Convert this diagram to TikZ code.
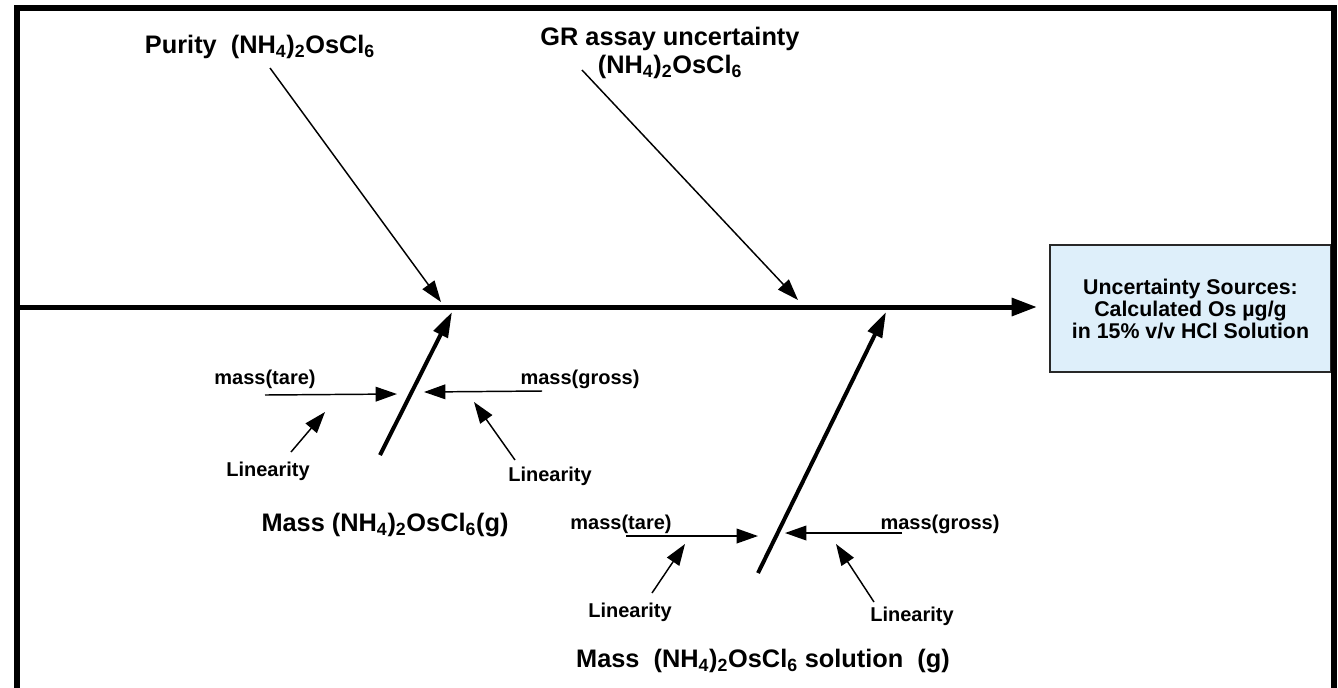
\documentclass[tikz,border=0pt]{standalone}
\usepackage{fontspec}
\setmainfont{Liberation Sans}
\usetikzlibrary{arrows.meta}

\newcommand{\ammcl}{(NH\textsubscript{4})\textsubscript{2}OsCl\textsubscript{6}}

\tikzset{every picture/.style={line width=0.75pt}}
\tikzset{
  thinarr/.style={line width=1.1pt,-{Triangle[length=16pt,width=11pt]}},
  bonearr/.style={line width=3pt,-{Triangle[length=19pt,width=11.5pt]}},
  spinearr/.style={line width=3.75pt,-{Triangle[length=19pt,width=13pt]}},
  biglbl/.style={font=\bfseries\fontsize{19}{21}\selectfont,anchor=base,inner sep=0pt},
  smalllbl/.style={font=\bfseries\fontsize{15}{17}\selectfont,anchor=base,inner sep=0pt},
}

\begin{document}
\begin{tikzpicture}[x=0.75pt,y=0.75pt,yscale=-1,xscale=1]
	\useasboundingbox (0,0) rectangle (1338,687);

	%Shape: Rectangle (result)
	\node (res) [draw={rgb,255:red,40;green,40;blue,40},line width=1.1pt,
	  fill={rgb,255:red,222;green,239;blue,250},minimum width=210.75pt,minimum height=95.25pt,
	  align=center,font=\bfseries\fontsize{16}{16.5}\selectfont,inner sep=0pt]
	  at (1190.5,308.5) {Uncertainty Sources:\\ Calculated Os µg/g\\ in 15\% v/v HCl Solution};

	%Frame
	\draw [line width=4pt,line join=miter] (17,690) -- (17,8) -- (1334,8) -- (1334,690) ;

	%Spine
	\coordinate (sp0) at (20,307);
	\coordinate (sp1) at (1037,307);
	\draw [spinearr] (sp0) -- (sp1) ;

	%Straight Lines (main causes)
	\coordinate (pur0) at (270,68);
	\coordinate (pur1) at (441,302);
	\draw [thinarr] (pur0) -- (pur1) ;
	\coordinate (gr0) at (582,70);
	\coordinate (gr1) at (798,300);
	\draw [thinarr] (gr0) -- (gr1) ;

	%Bone 1: mass of salt
	\coordinate (ma0) at (380,455);
	\coordinate (ma1) at (452,312);
	\draw [bonearr] (ma0) -- (ma1) ;
	\coordinate (taA0) at (265,395);
	\coordinate (taA1) at (397,394);
	\draw [thinarr] (taA0) -- (taA1) ;
	\coordinate (grA0) at (542,391);
	\coordinate (grA1) at (424,392);
	\draw [thinarr] (grA0) -- (grA1) ;
	\coordinate (liA0) at (291,452);
	\coordinate (liA1) at (325,412);
	\draw [thinarr] (liA0) -- (liA1) ;
	\coordinate (liB0) at (515,460);
	\coordinate (liB1) at (474,402);
	\draw [thinarr] (liB0) -- (liB1) ;

	%Bone 2: mass of solution
	\coordinate (ms0) at (758,573);
	\coordinate (ms1) at (886,312);
	\draw [bonearr] (ms0) -- (ms1) ;
	\coordinate (taC0) at (626,536);
	\coordinate (taC1) at (758,536);
	\draw [thinarr] (taC0) -- (taC1) ;
	\coordinate (grC0) at (902,533);
	\coordinate (grC1) at (785,533);
	\draw [thinarr] (grC0) -- (grC1) ;
	\coordinate (liC0) at (652,593);
	\coordinate (liC1) at (685,544);
	\draw [thinarr] (liC0) -- (liC1) ;
	\coordinate (liD0) at (874,602);
	\coordinate (liD1) at (836,544);
	\draw [thinarr] (liD0) -- (liD1) ;

	% Text Node
	\node (purlbl) [biglbl] at (260,53) {Purity\ \ \ammcl};
	% Text Node
	\node (grlbl) [biglbl,align=center] at (670,73) {GR assay uncertainty\\ \ammcl};
	% Text Node
	\node (malbl) [biglbl] at (385,531) {Mass \ammcl(g)};
	% Text Node
	\node (mslbl) [biglbl] at (763,667) {Mass\ \ \ammcl\ solution\ \ (g)};
	% Text Node
	\node (taAlbl) [smalllbl] at (265,384) {mass(tare)};
	% Text Node
	\node (grAlbl) [smalllbl] at (580,384) {mass(gross)};
	% Text Node
	\node (liAlbl) [smalllbl] at (268,476) {Linearity};
	% Text Node
	\node (liBlbl) [smalllbl] at (550,481) {Linearity};
	% Text Node
	\node (taClbl) [smalllbl] at (621,529) {mass(tare)};
	% Text Node
	\node (grClbl) [smalllbl] at (940,529) {mass(gross)};
	% Text Node
	\node (liClbl) [smalllbl] at (630,617) {Linearity};
	% Text Node
	\node (liDlbl) [smalllbl] at (912,621) {Linearity};

\end{tikzpicture}
\end{document}
